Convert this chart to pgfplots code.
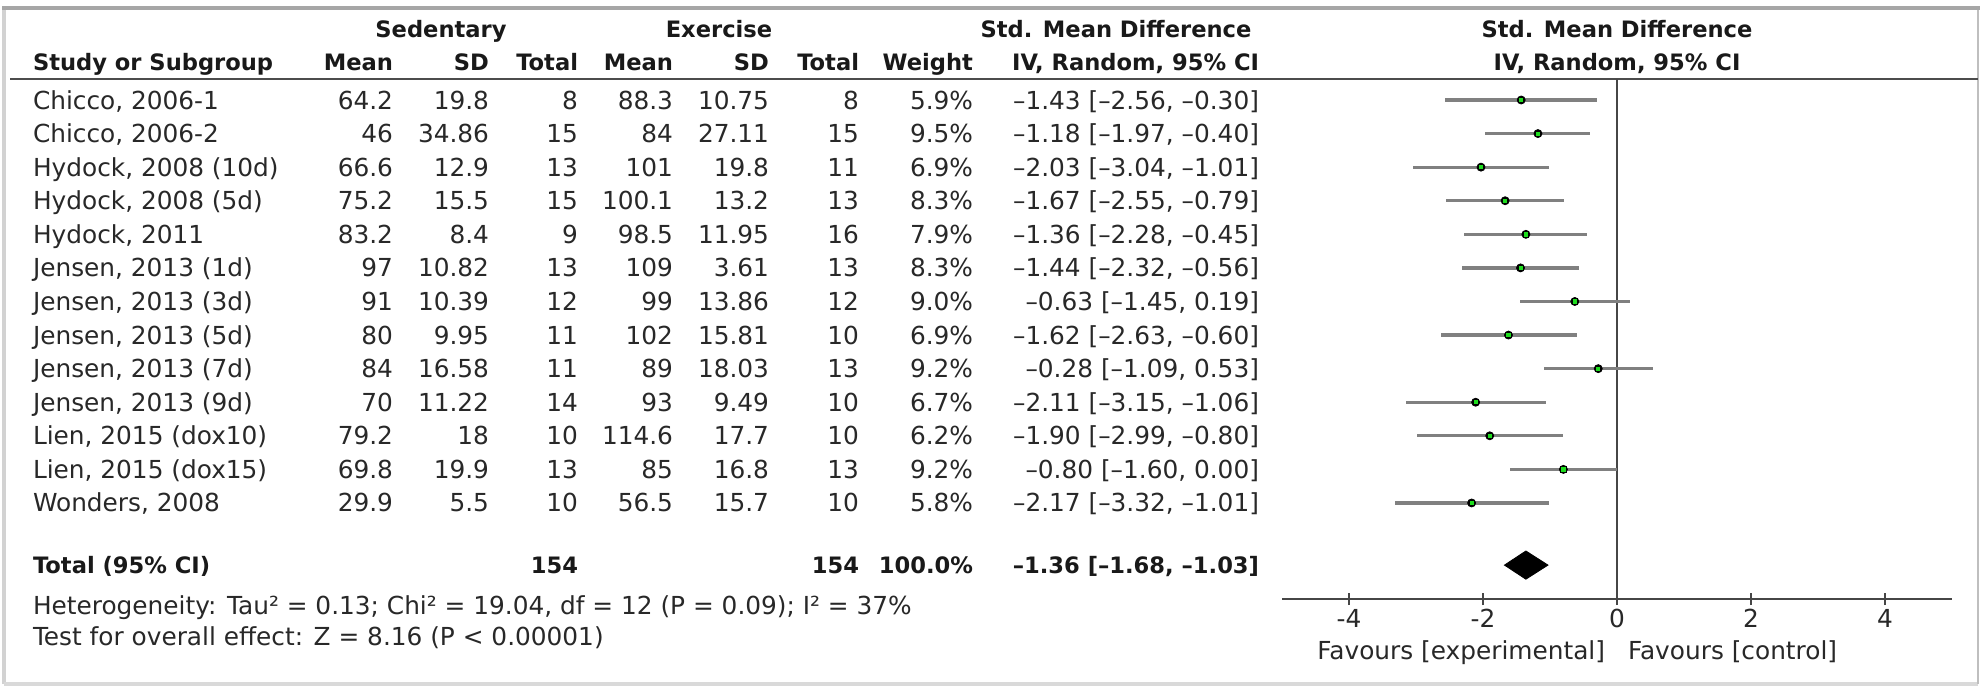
\documentclass[border=0pt]{standalone}
\usepackage{pgfplots}
\pgfplotsset{compat=1.18}
\usepackage{pgfplotstable}
\usepackage{fontspec}
\setmainfont{DejaVu Sans}
\definecolor{cigray}{RGB}{128,128,128}
\definecolor{ptgreen}{RGB}{30,220,30}
\definecolor{axgray}{RGB}{70,70,70}
\definecolor{txt}{RGB}{40,40,40}
\definecolor{hdr}{RGB}{25,25,25}
\newcommand\rf{\fontsize{12.4}{14}\selectfont\color{txt}}
\newcommand\hf{\fontsize{11.3}{13}\selectfont\bfseries\color{hdr}}

\pgfplotstableread{
y smd lo hi
-1 -1.43 -2.56 -0.30
-2 -1.18 -1.97 -0.40
-3 -2.03 -3.04 -1.01
-4 -1.67 -2.55 -0.79
-5 -1.36 -2.28 -0.45
-6 -1.44 -2.32 -0.56
-7 -0.63 -1.45 0.19
-8 -1.62 -2.63 -0.60
-9 -0.28 -1.09 0.53
-10 -2.11 -3.15 -1.06
-11 -1.90 -2.99 -0.80
-12 -0.80 -1.60 0.00
-13 -2.17 -3.32 -1.01
}\smdtable

\begin{document}
\begin{tikzpicture}
\path[use as bounding box] (0,0) rectangle (993pt,-343.5pt);
\begin{scope}[x=0.5pt,y=-0.5pt, every node/.style={inner sep=0pt, outer sep=0pt}]
% frame
\draw[gray!35, line width=1.6pt] (4,8) -- (4,684);
\draw[gray!30, line width=1.6pt] (4,684) -- (1978,684);
\draw[gray!50, line width=1.4pt] (1978,8) -- (1978,684);
\draw[gray!70, line width=1.6pt] (2,8) -- (1980,8);
% header line
\draw[black!70, line width=1.1pt] (10,79) -- (1978,79);
% header row 1
\node[anchor=base, font=\hf] at (441,37) {Sedentary};
\node[anchor=base, font=\hf] at (719,37) {Exercise};
\node[anchor=base, font=\hf] at (1116,37) {Std. Mean Difference};
\node[anchor=base, font=\hf] at (1617,37) {Std. Mean Difference};
% header row 2
\node[anchor=base west, font=\hf] at (33,70) {Study or Subgroup};
\node[anchor=base east, font=\hf] at (393,70) {Mean};
\node[anchor=base east, font=\hf] at (489,70) {SD};
\node[anchor=base east, font=\hf] at (578,70) {Total};
\node[anchor=base east, font=\hf] at (673,70) {Mean};
\node[anchor=base east, font=\hf] at (769,70) {SD};
\node[anchor=base east, font=\hf] at (859,70) {Total};
\node[anchor=base east, font=\hf] at (973,70) {Weight};
\node[anchor=base east, font=\hf] at (1259,70) {IV, Random, 95\% CI};
\node[anchor=base, font=\hf] at (1617,70) {IV, Random, 95\% CI};
% rows
\foreach \i/\st/\ma/\sa/\na/\mb/\sb/\nb/\w/\ci in {
1/{Chicco, 2006-1}/64.2/19.8/8/88.3/10.75/8/5.9/{–1.43 [–2.56, –0.30]},
2/{Chicco, 2006-2}/46/34.86/15/84/27.11/15/9.5/{–1.18 [–1.97, –0.40]},
3/{Hydock, 2008 (10d)}/66.6/12.9/13/101/19.8/11/6.9/{–2.03 [–3.04, –1.01]},
4/{Hydock, 2008 (5d)}/75.2/15.5/15/100.1/13.2/13/8.3/{–1.67 [–2.55, –0.79]},
5/{Hydock, 2011}/83.2/8.4/9/98.5/11.95/16/7.9/{–1.36 [–2.28, –0.45]},
6/{Jensen, 2013 (1d)}/97/10.82/13/109/3.61/13/8.3/{–1.44 [–2.32, –0.56]},
7/{Jensen, 2013 (3d)}/91/10.39/12/99/13.86/12/9.0/{–0.63 [–1.45, 0.19]},
8/{Jensen, 2013 (5d)}/80/9.95/11/102/15.81/10/6.9/{–1.62 [–2.63, –0.60]},
9/{Jensen, 2013 (7d)}/84/16.58/11/89/18.03/13/9.2/{–0.28 [–1.09, 0.53]},
10/{Jensen, 2013 (9d)}/70/11.22/14/93/9.49/10/6.7/{–2.11 [–3.15, –1.06]},
11/{Lien, 2015 (dox10)}/79.2/18/10/114.6/17.7/10/6.2/{–1.90 [–2.99, –0.80]},
12/{Lien, 2015 (dox15)}/69.8/19.9/13/85/16.8/13/9.2/{–0.80 [–1.60, 0.00]},
13/{Wonders, 2008}/29.9/5.5/10/56.5/15.7/10/5.8/{–2.17 [–3.32, –1.01]}}{
  \pgfmathsetmacro\yb{109+33.58*(\i-1)}
  \node[anchor=base west, font=\rf] at (33,\yb) {\st};
  \node[anchor=base east, font=\rf] at (393,\yb) {\ma};
  \node[anchor=base east, font=\rf] at (489,\yb) {\sa};
  \node[anchor=base east, font=\rf] at (578,\yb) {\na};
  \node[anchor=base east, font=\rf] at (673,\yb) {\mb};
  \node[anchor=base east, font=\rf] at (769,\yb) {\sb};
  \node[anchor=base east, font=\rf] at (859,\yb) {\nb};
  \node[anchor=base east, font=\rf] at (973,\yb) {\w\%};
  \node[anchor=base east, font=\rf] at (1259,\yb) {\ci};
}
% total row
\node[anchor=base west, font=\hf] at (33,573) {Total (95\% CI)};
\node[anchor=base east, font=\hf] at (578,573) {154};
\node[anchor=base east, font=\hf] at (859,573) {154};
\node[anchor=base east, font=\hf] at (973,573) {100.0\%};
\node[anchor=base east, font=\hf] at (1259,573) {–1.36 [–1.68, –1.03]};
% footnotes
\node[anchor=base west, font=\rf] at (33,614) {Heterogeneity: Tau² = 0.13; Chi² = 19.04, df = 12 (P = 0.09); I² = 37\%};
\node[anchor=base west, font=\rf] at (33,645) {Test for overall effect: Z = 8.16 (P < 0.00001)};
% favours
\node[anchor=base east, font=\rf] at (1605,659) {Favours [experimental]};
\node[anchor=base west, font=\rf] at (1628,659) {Favours [control]};
\end{scope}

\begin{axis}[
  at={(641pt,-299.5pt)}, anchor=south west,
  width=335pt, height=260pt, scale only axis,
  xmin=-5, xmax=5, ymin=-15.86, ymax=-0.375,
  axis x line*=bottom, axis y line=none,
  axis line style={axgray, line width=1.2pt},
  xtick={-4,-2,0,2,4}, xticklabels={-4,-2,0,2,4},
  tick align=center, major tick length=6pt,
  tick style={axgray, line width=1pt},
  xticklabel style={font=\rf, anchor=base, yshift=-11pt, inner sep=0pt},
  ytick=\empty,
  clip=false,
]
\addplot[axgray, line width=1.2pt] coordinates {(0,-0.375) (0,-15.86)};
\addplot[only marks, mark=none,
  error bars/.cd, x dir=both, x explicit, error mark=none,
  error bar style={cigray, line width=1.6pt}]
  table[x=smd, y=y, x error plus expr=\thisrow{hi}-\thisrow{smd}, x error minus expr=\thisrow{smd}-\thisrow{lo}] {\smdtable};
\addplot[only marks, mark=square*, mark size=1.3pt, draw=none, fill=ptgreen, mark options={draw=none, fill=ptgreen}]
  table[x=smd, y=y] {\smdtable};
\addplot[fill=black, draw=black] coordinates {(-1.68,-14.85) (-1.36,-14.43) (-1.03,-14.85) (-1.36,-15.27)} -- cycle;
\end{axis}
\end{tikzpicture}
\end{document}
